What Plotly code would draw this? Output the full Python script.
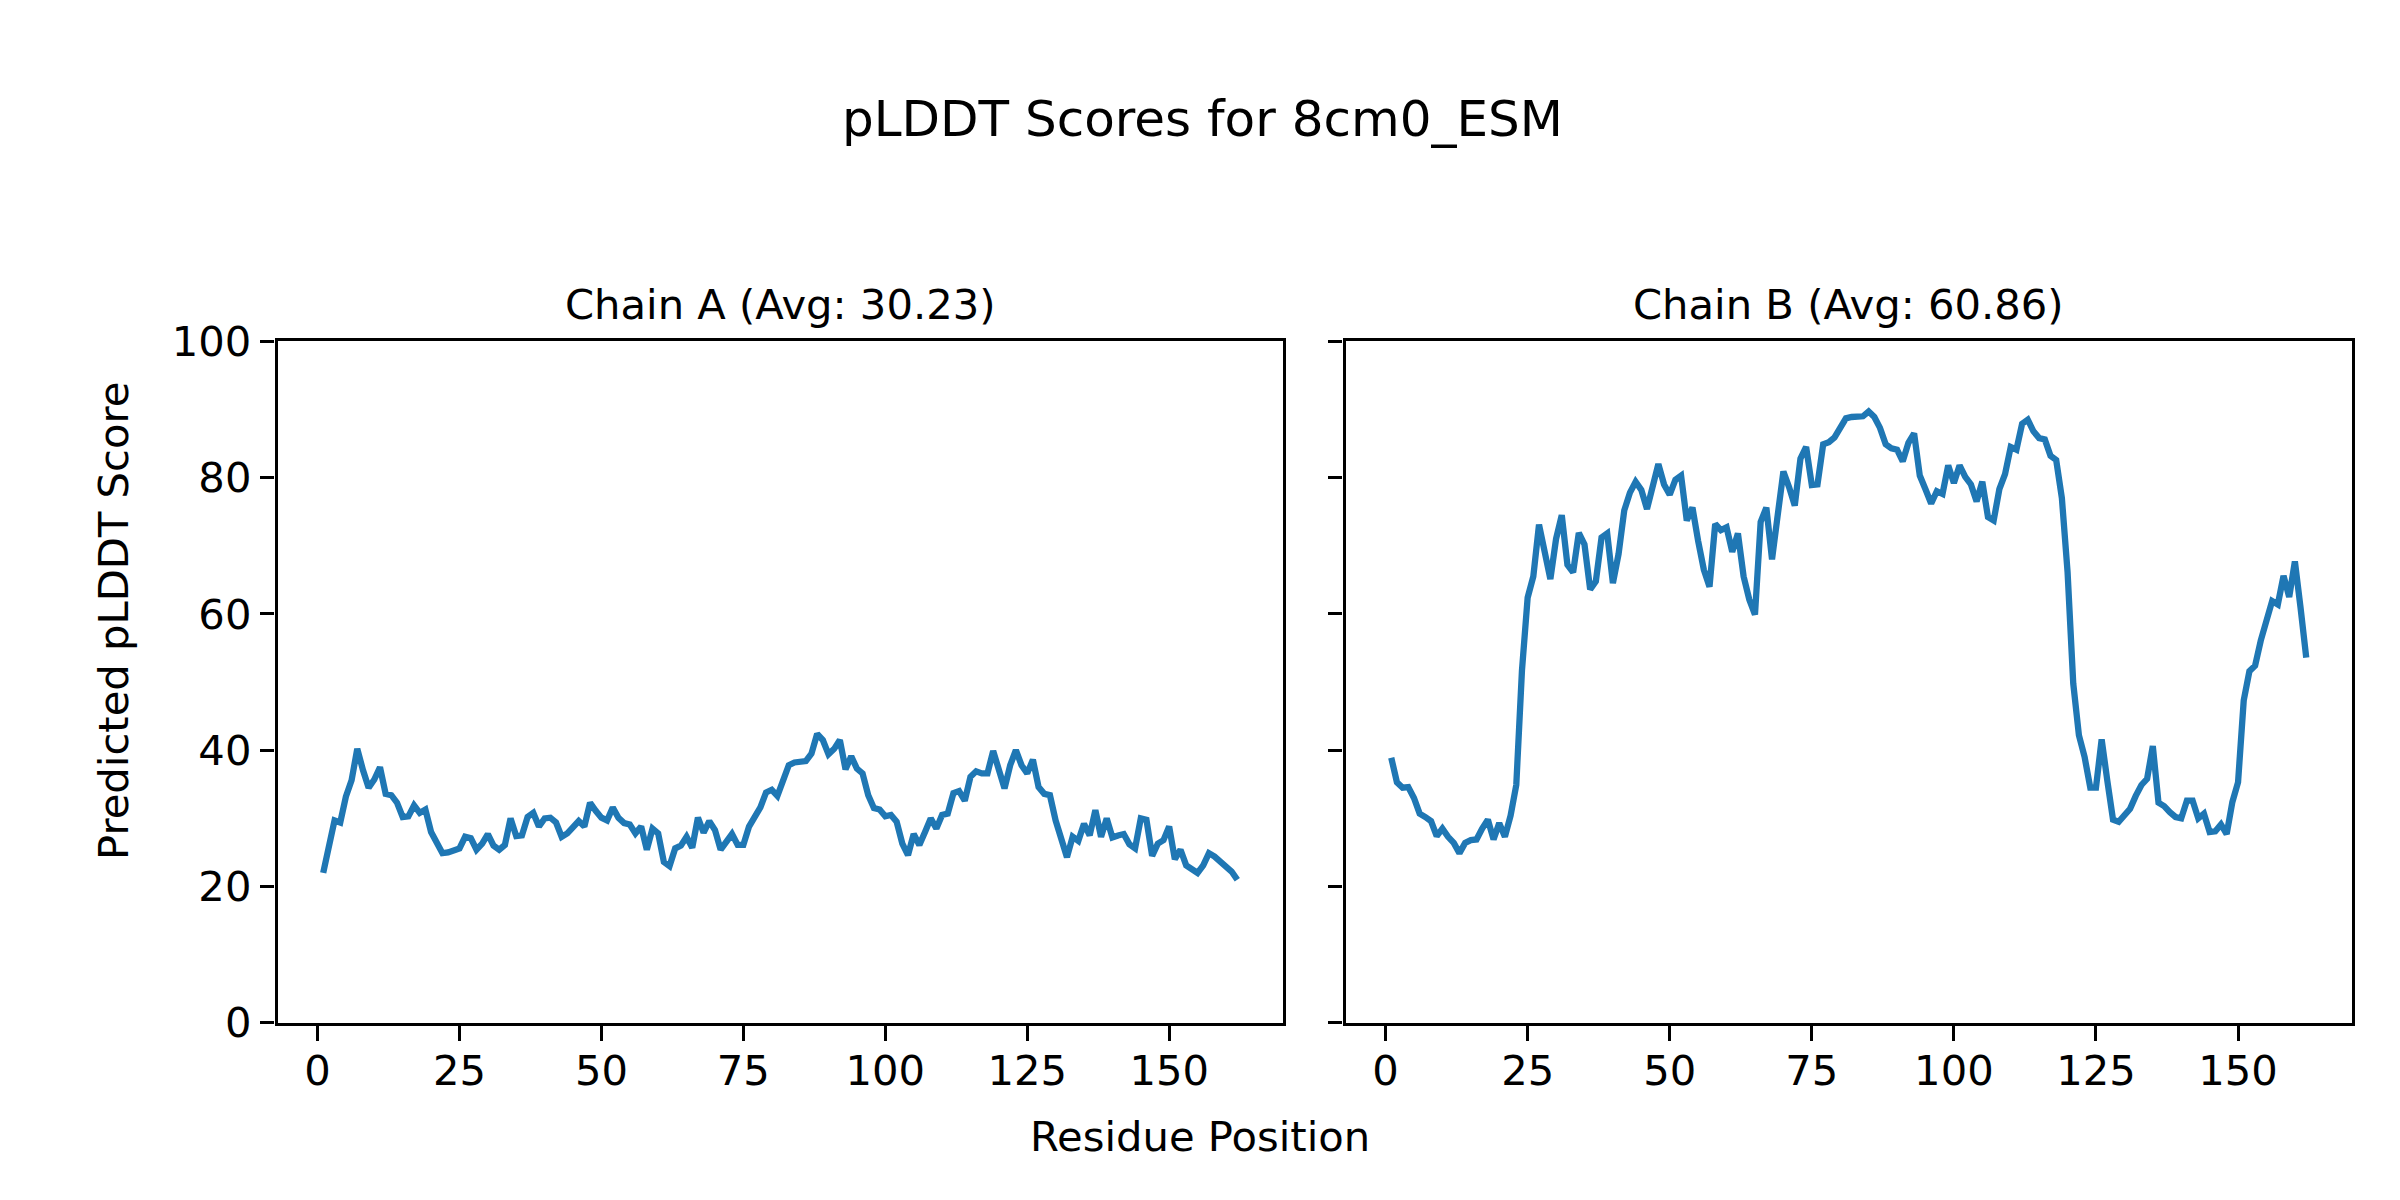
import plotly.graph_objects as go

# ---------------- data ----------------
chain_a_scores = [
    22.0, 25.8, 29.7, 29.4, 33.2, 35.6, 40.2, 37.1, 34.5, 35.7,
    37.5, 33.6, 33.4, 32.3, 30.2, 30.3, 31.9, 30.8, 31.3, 28.0,
    26.3, 24.9, 25.0, 25.3, 25.6, 27.3, 27.1, 25.4, 26.3, 27.7,
    26.0, 25.4, 26.1, 30.0, 27.4, 27.5, 30.2, 30.8, 28.8, 30.0,
    30.1, 29.4, 27.3, 27.8, 28.8, 29.6, 28.8, 32.3, 31.1, 30.1,
    29.7, 31.6, 30.1, 29.3, 29.1, 27.8, 28.8, 25.4, 28.5, 27.8,
    23.6, 23.0, 25.6, 26.0, 27.3, 25.7, 30.1, 27.9, 29.6, 28.3,
    25.4, 26.6, 27.7, 26.1, 26.1, 28.8, 30.2, 31.6, 33.8, 34.2,
    33.3, 35.8, 37.8, 38.2, 38.4, 38.4, 39.5, 42.4, 41.5, 39.4,
    40.2, 41.5, 37.2, 39.1, 37.3, 36.6, 33.4, 31.5, 31.3, 30.3,
    30.5, 29.5, 26.3, 24.6, 27.7, 26.1, 28.0, 30.0, 28.5, 30.5,
    30.7, 33.7, 34.0, 32.6, 36.1, 36.9, 36.6, 36.6, 39.9, 37.5,
    34.4, 37.8, 40.0, 37.8, 36.6, 38.6, 34.6, 33.6, 33.4, 29.7,
    26.9, 24.3, 27.3, 26.7, 29.2, 27.5, 31.2, 27.3, 30.0, 27.2,
    27.5, 27.7, 26.2, 25.6, 30.0, 29.8, 24.5, 26.3, 26.8, 28.8,
    24.0, 25.4, 23.1, 22.6, 22.0, 23.1, 24.9, 24.4, 23.6, 22.9,
    22.2, 21.0,
]

chain_b_scores = [
    38.9, 35.3, 34.5, 34.6, 33.0, 30.7, 30.2, 29.6, 27.4, 28.5,
    27.3, 26.4, 24.9, 26.4, 26.8, 26.9, 28.5, 29.8, 26.9, 29.3,
    27.3, 30.4, 34.9, 51.7, 62.4, 65.5, 73.1, 69.1, 65.1, 71.0,
    74.5, 67.2, 66.1, 71.9, 70.2, 63.6, 64.8, 71.2, 71.8, 64.5,
    68.8, 75.2, 77.8, 79.4, 78.2, 75.4, 78.6, 82.0, 79.0, 77.5,
    79.7, 80.3, 73.7, 75.6, 70.7, 66.5, 64.0, 73.2, 72.3, 72.7,
    69.1, 71.8, 65.5, 62.1, 59.9, 73.5, 75.6, 68.0, 74.5, 80.9,
    78.6, 75.9, 82.8, 84.5, 78.9, 79.0, 84.9, 85.2, 85.9, 87.5,
    88.7, 88.9, 89.0, 89.0, 89.7, 88.9, 87.3, 84.9, 84.3, 84.1,
    82.4, 85.1, 86.5, 80.3, 78.3, 76.2, 78.0, 77.6, 81.8, 79.2,
    81.8, 80.1, 79.0, 76.5, 79.4, 74.2, 73.7, 78.3, 80.5, 84.5,
    84.1, 87.9, 88.5, 86.8, 85.8, 85.6, 83.2, 82.6, 77.0, 66.2,
    49.8, 42.2, 39.0, 34.5, 34.5, 41.6, 35.5, 29.8, 29.5, 30.4,
    31.4, 33.3, 34.9, 35.8, 40.6, 32.3, 31.8, 30.9, 30.2, 30.0,
    32.6, 32.6, 30.0, 30.7, 28.0, 28.1, 29.1, 27.7, 32.4, 35.3,
    47.3, 51.6, 52.4, 56.1, 59.0, 61.9, 61.4, 65.6, 62.5, 67.7,
    60.9, 53.6,
]

residues_a = list(range(1, len(chain_a_scores) + 1))
residues_b = list(range(1, len(chain_b_scores) + 1))

x_tick_vals = [0, 25, 50, 75, 100, 125, 150]
y_tick_vals = [0, 20, 40, 60, 80, 100]

main_title = "pLDDT Scores for 8cm0_ESM"
title_a = "Chain A (Avg: 30.23)"
title_b = "Chain B (Avg: 60.86)"
x_label = "Residue Position"
y_label = "Predicted pLDDT Score"

# ---------------- figure ----------------
W, H = 2400, 1200
FONT = "DejaVu Sans"
LINE_C = "#1f77b4"
DX = -6  # horizontal page offset compensation


def fx(px):
    return (px + DX) / W


def fy(py):
    return 1 - py / H


ax_a = [fx(275.5), fx(1281)]
ax_b = [fx(1343.5), fx(2350)]
ax_y = [fy(1033), fy(322.5)]

fig = go.Figure()
fig.add_trace(go.Scatter(x=residues_a, y=chain_a_scores, mode="lines",
                         line=dict(color=LINE_C, width=6.3),
                         xaxis="x", yaxis="y", showlegend=False))
fig.add_trace(go.Scatter(x=residues_b, y=chain_b_scores, mode="lines",
                         line=dict(color=LINE_C, width=6.3),
                         xaxis="x2", yaxis="y2", showlegend=False))

common_axis = dict(
    showline=True, mirror=True, linecolor="black", linewidth=3.3,
    ticks="outside", ticklen=14.6, tickwidth=3.3, tickcolor="black",
    showgrid=False, zeroline=False,
    tickfont=dict(family=FONT, size=41.7, color="black"),
)

fig.update_layout(
    width=W, height=H,
    margin=dict(l=0, r=0, t=0, b=0),
    paper_bgcolor="white", plot_bgcolor="white",
    font=dict(family=FONT, color="black"),
    xaxis=dict(domain=ax_a, range=[-7.05, 170.05], tickvals=x_tick_vals,
               anchor="y", ticklabelstandoff=-6, **common_axis),
    yaxis=dict(domain=ax_y, range=[0, 100], tickvals=y_tick_vals,
               anchor="x", **common_axis),
    xaxis2=dict(domain=ax_b, range=[-7.05, 170.05], tickvals=x_tick_vals,
                anchor="y2", ticklabelstandoff=-6, **common_axis),
    yaxis2=dict(domain=ax_y, range=[0, 100], tickvals=y_tick_vals,
                anchor="x2", showticklabels=False, **common_axis),
)

annotations = [
    dict(text=main_title, x=fx(1200), y=fy(91), font=dict(family=FONT, size=50)),
    dict(text=title_a, x=(ax_a[0] + ax_a[1]) / 2, y=fy(284),
         font=dict(family=FONT, size=41.7)),
    dict(text=title_b, x=(ax_b[0] + ax_b[1]) / 2, y=fy(284),
         font=dict(family=FONT, size=41.7)),
    dict(text=x_label, x=fx(1198), y=fy(1152), font=dict(family=FONT, size=41.7)),
    dict(text=y_label, x=fx(112), y=fy(614), textangle=-90,
         font=dict(family=FONT, size=41.7)),
]
for a in annotations:
    a.update(xref="paper", yref="paper", showarrow=False,
             xanchor="center", yanchor="middle")
    a["font"]["color"] = "black"
fig.update_layout(annotations=annotations)

fig.write_html("out.html")
